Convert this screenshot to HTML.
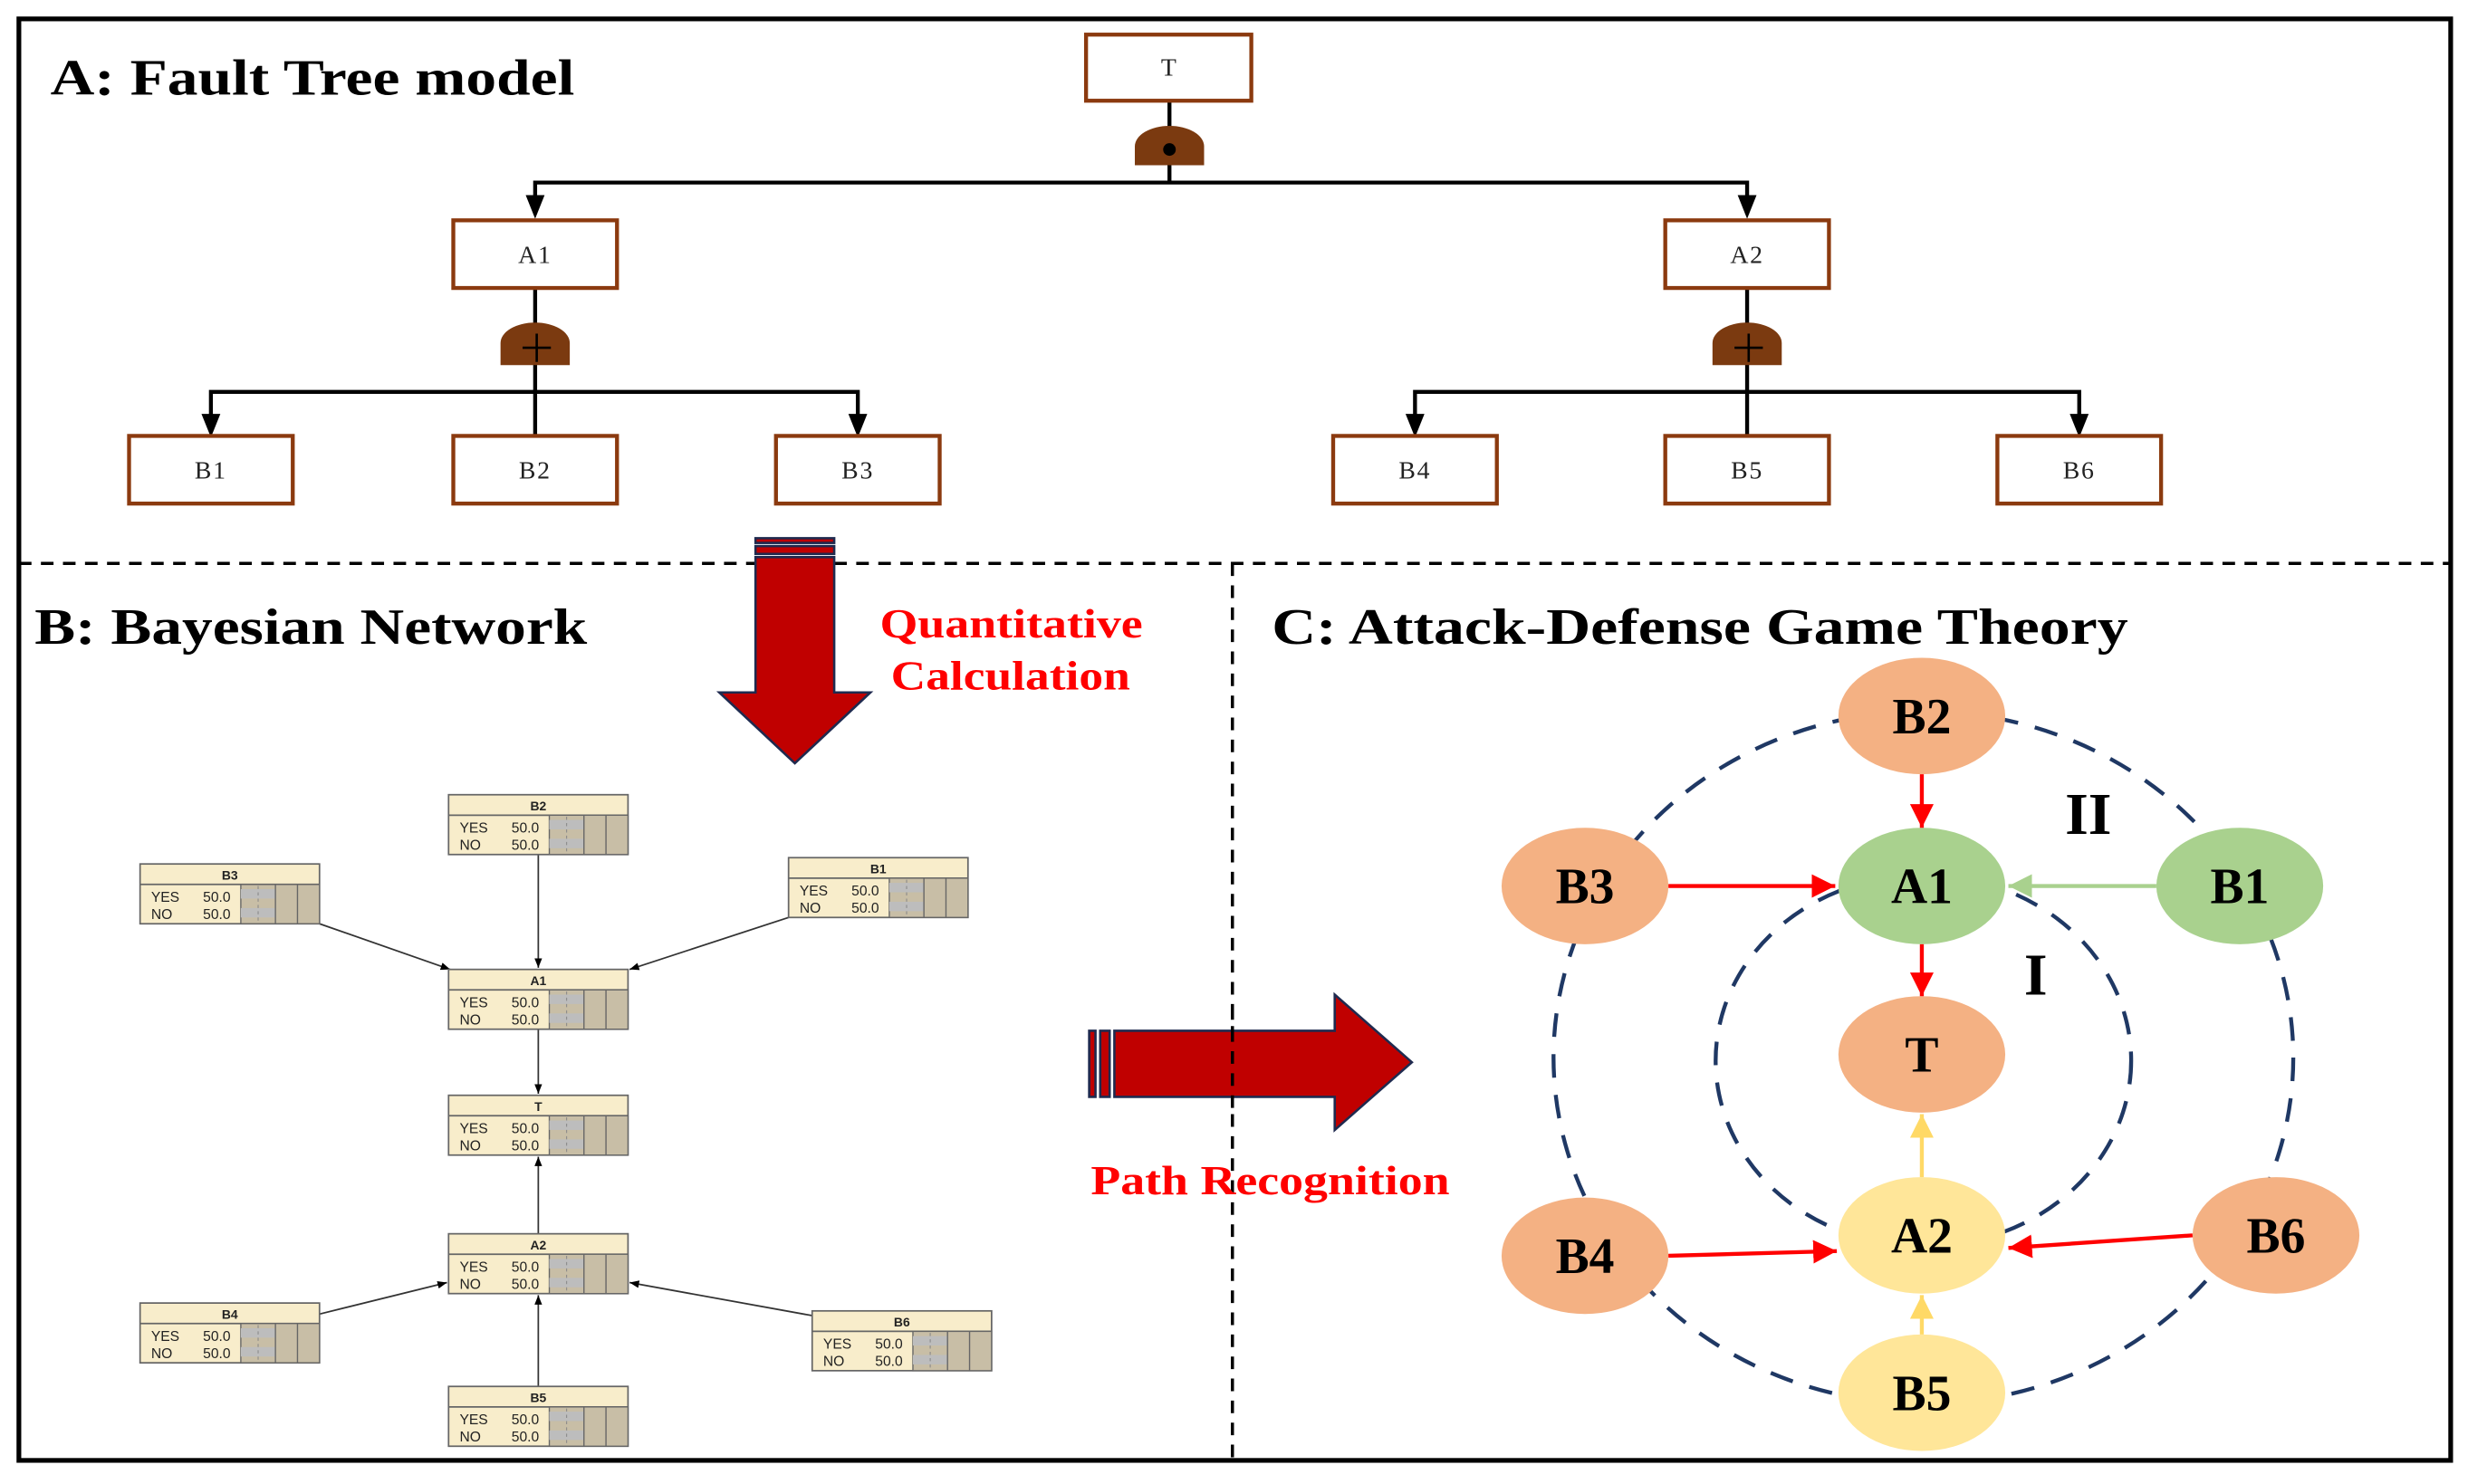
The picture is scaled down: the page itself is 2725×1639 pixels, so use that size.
<!DOCTYPE html>
<html><head><meta charset="utf-8"><style>
html,body{margin:0;padding:0;background:#fff}
svg{display:block}
</style></head><body>
<svg width="2725" height="1639" viewBox="0 0 1568 943" preserveAspectRatio="none" xmlns="http://www.w3.org/2000/svg">
<defs>
<marker id="as" viewBox="0 0 10 10" refX="10" refY="5" markerWidth="6" markerHeight="6" orient="auto"><path d="M0,1L10,5L0,9z" fill="#000"/></marker>
<marker id="ar" viewBox="0 0 10 10" refX="10" refY="5" markerWidth="6" markerHeight="6" orient="auto"><path d="M0,0L10,5L0,10z" fill="#FF0000"/></marker>
<marker id="ag" viewBox="0 0 10 10" refX="10" refY="5" markerWidth="6" markerHeight="6" orient="auto"><path d="M0,0L10,5L0,10z" fill="#A9D18E"/></marker>
<marker id="ay" viewBox="0 0 10 10" refX="10" refY="5" markerWidth="6" markerHeight="6" orient="auto"><path d="M0,0L10,5L0,10z" fill="#FFD966"/></marker>
<g id="bn">
<rect x="0" y="0" width="114" height="38" fill="#F8EDCB" stroke="#666" stroke-width="1"/>
<line x1="0" y1="13" x2="114" y2="13" stroke="#666" stroke-width="1"/>
<rect x="64" y="13" width="50" height="25" fill="#C8BEA6" stroke="#666" stroke-width="0.8"/>
<rect x="64" y="16" width="22" height="6" fill="#BDBDBD"/>
<rect x="64" y="28" width="22" height="6" fill="#BDBDBD"/>
<line x1="75" y1="14" x2="75" y2="37" stroke="#888" stroke-width="0.6" stroke-dasharray="2,2"/>
<line x1="86" y1="13" x2="86" y2="38" stroke="#666" stroke-width="0.8"/>
<line x1="100" y1="13" x2="100" y2="38" stroke="#666" stroke-width="0.8"/>
</g>
</defs>
<rect width="1568" height="943" fill="#fff"/>
<rect x="12" y="12" width="1545" height="916" fill="none" stroke="#000" stroke-width="3"/>
<line x1="12" y1="358" x2="1557" y2="358" stroke="#000" stroke-width="2" stroke-dasharray="8,6"/>
<line x1="783" y1="358" x2="783" y2="928" stroke="#000" stroke-width="2" stroke-dasharray="8,6"/>

<g font-family="Liberation Serif, serif" font-weight="bold" fill="#000">
<text x="32" y="60" font-size="32" textLength="333" lengthAdjust="spacingAndGlyphs">A: Fault Tree model</text>
<text x="22" y="409" font-size="32" textLength="351" lengthAdjust="spacingAndGlyphs">B: Bayesian Network</text>
<text x="808" y="409" font-size="32" textLength="544" lengthAdjust="spacingAndGlyphs">C: Attack-Defense Game Theory</text>
</g>

<!-- Fault tree -->
<g stroke="#000" stroke-width="2.5" fill="none">
<line x1="743" y1="64" x2="743" y2="116"/>
<polyline points="340,136 340,116 1110,116 1110,136"/>
<line x1="340" y1="183" x2="340" y2="277"/>
<polyline points="134,270 134,249 545,249 545,270"/>
<line x1="1110" y1="183" x2="1110" y2="277"/>
<polyline points="899,270 899,249 1321,249 1321,270"/>
</g>
<g fill="#000">
<path d="M334,124L346,124L340,139z"/><path d="M1104,124L1116,124L1110,139z"/>
<path d="M128,263L140,263L134,278z"/><path d="M539,263L551,263L545,278z"/>
<path d="M893,263L905,263L899,278z"/><path d="M1315,263L1327,263L1321,278z"/>
</g>
<g fill="#7B3A10">
<path d="M721,105L721,93A22,13 0 0 1 765,93L765,105z"/>
<path d="M318,232L318,218A22,13 0 0 1 362,218L362,232z"/>
<path d="M1088,232L1088,218A22,13 0 0 1 1132,218L1132,232z"/>
</g>
<circle cx="743" cy="95" r="4" fill="#000"/>
<g stroke="#000" stroke-width="1.5"><line x1="332" y1="221" x2="350" y2="221"/><line x1="341" y1="212" x2="341" y2="230"/><line x1="1102" y1="221" x2="1120" y2="221"/><line x1="1111" y1="212" x2="1111" y2="230"/></g>
<g fill="#fff" stroke="#8B3A0F" stroke-width="2.5">
<rect x="690" y="22" width="105" height="42"/>
<rect x="288" y="140" width="104" height="43"/><rect x="1058" y="140" width="104" height="43"/>
<rect x="82" y="277" width="104" height="43"/><rect x="288" y="277" width="104" height="43"/><rect x="493" y="277" width="104" height="43"/>
<rect x="847" y="277" width="104" height="43"/><rect x="1058" y="277" width="104" height="43"/><rect x="1269" y="277" width="104" height="43"/>
</g>
<g font-family="Liberation Serif, serif" font-size="16" text-anchor="middle" fill="#222" letter-spacing="1">
<text x="743" y="48">T</text><text x="340" y="167">A1</text><text x="1110" y="167">A2</text>
<text x="134" y="304">B1</text><text x="340" y="304">B2</text><text x="545" y="304">B3</text>
<text x="899" y="304">B4</text><text x="1110" y="304">B5</text><text x="1321" y="304">B6</text>
</g>

<!-- Big arrows -->
<g stroke="#1F2A4F" stroke-width="1.5">
<rect x="480" y="342" width="50" height="3" fill="#C00000"/>
<rect x="480" y="347" width="50" height="5" fill="#C00000"/>
<path d="M480,354L530,354L530,440L553,440L505,485L457,440L480,440z" fill="#C00000"/>
<rect x="692" y="655" width="4" height="42" fill="#C00000"/>
<rect x="699" y="655" width="6" height="42" fill="#C00000"/>
<path d="M708,655L848,655L848,632L897,675L848,718L848,697L708,697z" fill="#C00000"/>
</g>
<line x1="783" y1="640" x2="783" y2="710" stroke="#000" stroke-width="2" stroke-dasharray="8,6"/>
<g font-family="Liberation Serif, serif" font-weight="bold" font-size="26" fill="#FF0000">
<text x="559" y="405" textLength="167" lengthAdjust="spacingAndGlyphs">Quantitative</text>
<text x="566" y="438" textLength="152" lengthAdjust="spacingAndGlyphs">Calculation</text>
<text x="693" y="759" textLength="228" lengthAdjust="spacingAndGlyphs">Path Recognition</text>
</g>

<!-- Bayesian network -->
<g stroke="#333" stroke-width="1" fill="none">
<line x1="342" y1="543" x2="342" y2="615" marker-end="url(#as)"/>
<line x1="203" y1="587" x2="286" y2="616" marker-end="url(#as)"/>
<line x1="501" y1="583" x2="400" y2="616" marker-end="url(#as)"/>
<line x1="342" y1="653" x2="342" y2="695" marker-end="url(#as)"/>
<line x1="342" y1="784" x2="342" y2="735" marker-end="url(#as)"/>
<line x1="203" y1="835" x2="284" y2="815" marker-end="url(#as)"/>
<line x1="516" y1="836" x2="400" y2="815" marker-end="url(#as)"/>
<line x1="342" y1="881" x2="342" y2="823" marker-end="url(#as)"/>
</g>
<use href="#bn" x="285" y="505"/><use href="#bn" x="89" y="549"/><use href="#bn" x="501" y="545"/>
<use href="#bn" x="285" y="616"/><use href="#bn" x="285" y="696"/><use href="#bn" x="285" y="784"/>
<use href="#bn" x="89" y="828"/><use href="#bn" x="516" y="833"/><use href="#bn" x="285" y="881"/>
<g font-family="Liberation Sans, sans-serif" font-size="9" fill="#222">
<g font-weight="bold" text-anchor="middle" font-size="8">
<text x="342" y="515">B2</text><text x="146" y="559">B3</text><text x="558" y="555">B1</text>
<text x="342" y="626">A1</text><text x="342" y="706">T</text><text x="342" y="794">A2</text>
<text x="146" y="838">B4</text><text x="573" y="843">B6</text><text x="342" y="891">B5</text>
</g>
<text x="292" y="529">YES</text><text x="325" y="529">50.0</text><text x="292" y="540">NO</text><text x="325" y="540">50.0</text>
<text x="96" y="573">YES</text><text x="129" y="573">50.0</text><text x="96" y="584">NO</text><text x="129" y="584">50.0</text>
<text x="508" y="569">YES</text><text x="541" y="569">50.0</text><text x="508" y="580">NO</text><text x="541" y="580">50.0</text>
<text x="292" y="640">YES</text><text x="325" y="640">50.0</text><text x="292" y="651">NO</text><text x="325" y="651">50.0</text>
<text x="292" y="720">YES</text><text x="325" y="720">50.0</text><text x="292" y="731">NO</text><text x="325" y="731">50.0</text>
<text x="292" y="808">YES</text><text x="325" y="808">50.0</text><text x="292" y="819">NO</text><text x="325" y="819">50.0</text>
<text x="96" y="852">YES</text><text x="129" y="852">50.0</text><text x="96" y="863">NO</text><text x="129" y="863">50.0</text>
<text x="523" y="857">YES</text><text x="556" y="857">50.0</text><text x="523" y="868">NO</text><text x="556" y="868">50.0</text>
<text x="292" y="905">YES</text><text x="325" y="905">50.0</text><text x="292" y="916">NO</text><text x="325" y="916">50.0</text>
</g>

<!-- Game theory -->
<g fill="none" stroke="#1F3864" stroke-width="2.5" stroke-dasharray="15,11">
<ellipse cx="1222" cy="672" rx="235" ry="220"/>
<ellipse cx="1222" cy="674" rx="132" ry="118"/>
</g>
<g font-family="Liberation Serif, serif" font-weight="bold" fill="#000">
<text x="1312" y="530" font-size="38">II</text>
<text x="1286" y="632" font-size="38">I</text>
</g>
<g>
<ellipse cx="1221" cy="455" rx="53" ry="37" fill="#F4B183"/>
<ellipse cx="1221" cy="563" rx="53" ry="37" fill="#A9D18E"/>
<ellipse cx="1007" cy="563" rx="53" ry="37" fill="#F4B183"/>
<ellipse cx="1423" cy="563" rx="53" ry="37" fill="#A9D18E"/>
<ellipse cx="1221" cy="670" rx="53" ry="37" fill="#F4B183"/>
<ellipse cx="1221" cy="785" rx="53" ry="37" fill="#FFE699"/>
<ellipse cx="1007" cy="798" rx="53" ry="37" fill="#F4B183"/>
<ellipse cx="1446" cy="785" rx="53" ry="37" fill="#F4B183"/>
<ellipse cx="1221" cy="885" rx="53" ry="37" fill="#FFE699"/>
</g>
<g stroke-width="2.5" fill="none">
<line x1="1221" y1="492" x2="1221" y2="526" stroke="#FF0000" marker-end="url(#ar)"/>
<line x1="1060" y1="563" x2="1166" y2="563" stroke="#FF0000" marker-end="url(#ar)"/>
<line x1="1370" y1="563" x2="1276" y2="563" stroke="#A9D18E" marker-end="url(#ag)"/>
<line x1="1221" y1="600" x2="1221" y2="633" stroke="#FF0000" marker-end="url(#ar)"/>
<line x1="1221" y1="748" x2="1221" y2="708" stroke="#FFD966" marker-end="url(#ay)"/>
<line x1="1060" y1="798" x2="1167" y2="795" stroke="#FF0000" marker-end="url(#ar)"/>
<line x1="1393" y1="785" x2="1276" y2="793" stroke="#FF0000" marker-end="url(#ar)"/>
<line x1="1221" y1="848" x2="1221" y2="823" stroke="#FFD966" marker-end="url(#ay)"/>
</g>
<g font-family="Liberation Serif, serif" font-weight="bold" font-size="32" fill="#000" text-anchor="middle">
<text x="1221" y="466">B2</text><text x="1221" y="574">A1</text><text x="1007" y="574">B3</text>
<text x="1423" y="574">B1</text><text x="1221" y="681">T</text><text x="1221" y="796">A2</text>
<text x="1007" y="809">B4</text><text x="1446" y="796">B6</text><text x="1221" y="896">B5</text>
</g>
</svg>
</body></html>
